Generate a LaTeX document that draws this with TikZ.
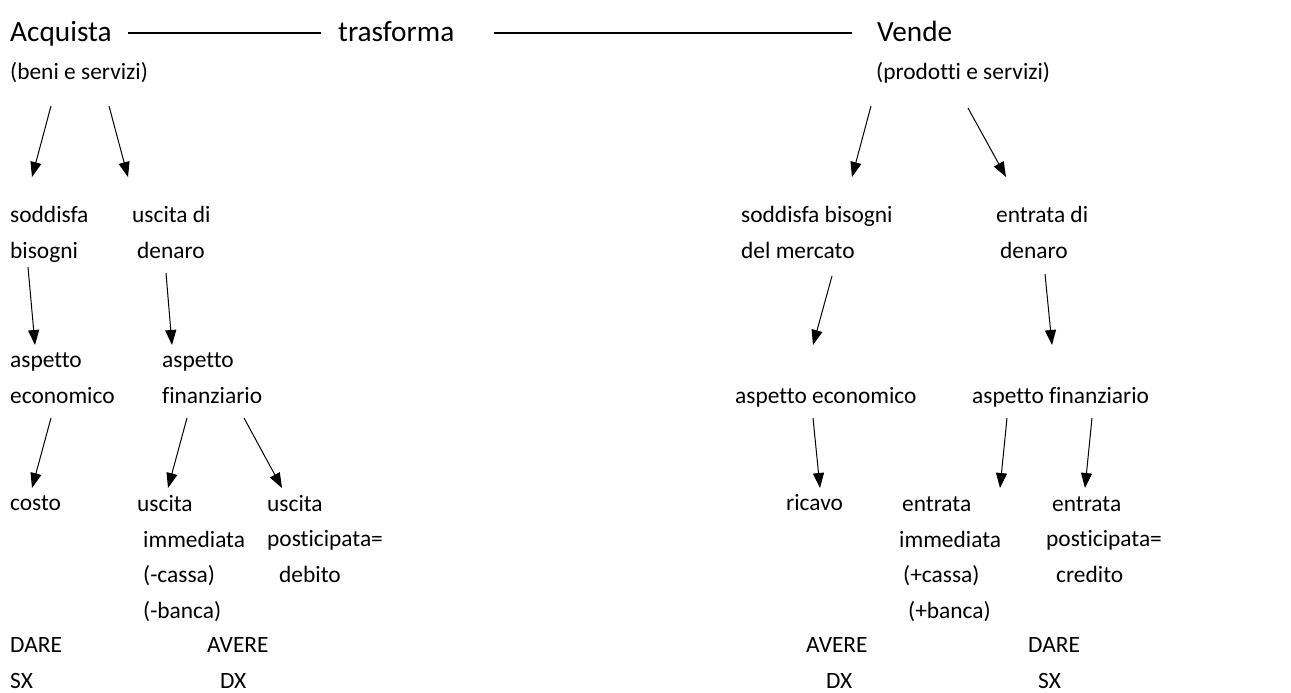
\documentclass[tikz,border=0pt]{standalone}
\usepackage{fontspec}
\setmainfont{Carlito}[Ligatures=NoCommon]
\usetikzlibrary{arrows.meta}
\begin{document}
\begin{tikzpicture}[x=1pt,y=-1pt,
        txt/.style={anchor=base west,inner sep=0pt,align=left,font=\fontsize{23.4}{35.5}\selectfont},
        head/.style={anchor=base west,inner sep=0pt,font=\fontsize{29.3}{35}\selectfont},
        arr/.style={-{Triangle[length=15pt,width=11pt]},line width=1pt},
        link/.style={line width=1.2pt}]
        \useasboundingbox (0,0) rectangle (1291,693);
        % Top row
        \node[head] (acq) at (10,42) {Acquista};
        \node[head] (tra) at (338,42) {trasforma};
        \node[head] (ven) at (877,42) {Vende};
        \node[txt] (ben) at (10,80) {(beni e servizi)};
        \node[txt] (pro) at (876,80) {(prodotti e servizi)};
        \draw[link] ([shift={(16,-9)}]acq.base east) -- ([shift={(-17,-9)}]tra.base west);
        \draw[link] ([shift={(40,-9)}]tra.base east) -- ([shift={(-25,-9)}]ven.base west);
        % Acquista side (multi-line nodes sit on their last line)
        \node[txt] (sod) at (10,258) {soddisfa\\bisogni};
        \node[txt] (usc) at (132,258) {uscita di\\\hspace*{5pt}denaro};
        \node[txt] (ae1) at (10,403) {aspetto\\economico};
        \node[txt] (af1) at (162,403) {aspetto\\finanziario};
        \node[txt] (cos) at (10,510) {costo};
        \node[txt] (ui) at (137,618) {uscita\\\hspace*{6pt}immediata\\\hspace*{6pt}(-cassa)\\\hspace*{6pt}(-banca)};
        \node[txt] (up) at (267,582) {uscita\\posticipata=\\\hspace*{12pt}debito};
        \node[txt] (da1) at (10,688) {DARE\\SX};
        \node[txt] (av1) at (207,688) {AVERE\\\hspace*{13pt}DX};
        % Vende side
        \node[txt] (smk) at (741,258) {soddisfa bisogni\\del mercato};
        \node[txt] (ent) at (996,258) {entrata di\\\hspace*{4pt}denaro};
        \node[txt] (ae2) at (735,403) {aspetto economico};
        \node[txt] (af2) at (972,403) {aspetto finanziario};
        \node[txt] (ric) at (786,510) {ricavo};
        \node[txt] (ei) at (899,618) {\hspace*{3pt}entrata\\immediata\\\hspace*{4pt}(+cassa)\\\hspace*{9pt}(+banca)};
        \node[txt] (ep) at (1046,582) {\hspace*{6pt}entrata\\posticipata=\\\hspace*{10pt}credito};
        \node[txt] (av2) at (806,688) {AVERE\\\hspace*{20pt}DX};
        \node[txt] (da2) at (1028,688) {DARE\\\hspace*{10pt}SX};
        % Arrows
        \draw[arr] ([shift={(41,26)}]ben.base west) -- ([shift={(22,-81)}]sod.base west);
        \draw[arr] ([shift={(99,26)}]ben.base west) -- ([shift={(-4,-81)}]usc.base west);
        \draw[arr] ([shift={(18,9)}]sod.base west) -- ([shift={(25,-58)}]ae1.base west);
        \draw[arr] ([shift={(34,15)}]usc.base west) -- ([shift={(10,-58)}]af1.base west);
        \draw[arr] ([shift={(41,15)}]ae1.base west) -- ([shift={(22,-22)}]cos.base west);
        \draw[arr] ([shift={(25,15)}]af1.base west) -- ([shift={(31,-130)}]ui.base west);
        \draw[arr] ([shift={(82,15)}]af1.base west) -- ([shift={(15,-94)}]up.base west);
        \draw[arr] ([shift={(-5,26)}]pro.base west) -- ([shift={(111,-81)}]smk.base west);
        \draw[arr] ([shift={(92,28)}]pro.base west) -- ([shift={(10,-81)}]ent.base west);
        \draw[arr] ([shift={(91,18)}]smk.base west) -- ([shift={(78,-58)}]ae2.base west);
        \draw[arr] ([shift={(49,16)}]ent.base west) -- ([shift={(80,-58)}]af2.base west);
        \draw[arr] ([shift={(78,15)}]ae2.base west) -- ([shift={(34,-22)}]ric.base west);
        \draw[arr] ([shift={(35,15)}]af2.base west) -- ([shift={(101,-130)}]ei.base west);
        \draw[arr] ([shift={(120,15)}]af2.base west) -- ([shift={(39,-94)}]ep.base west);
\end{tikzpicture}
\end{document}
